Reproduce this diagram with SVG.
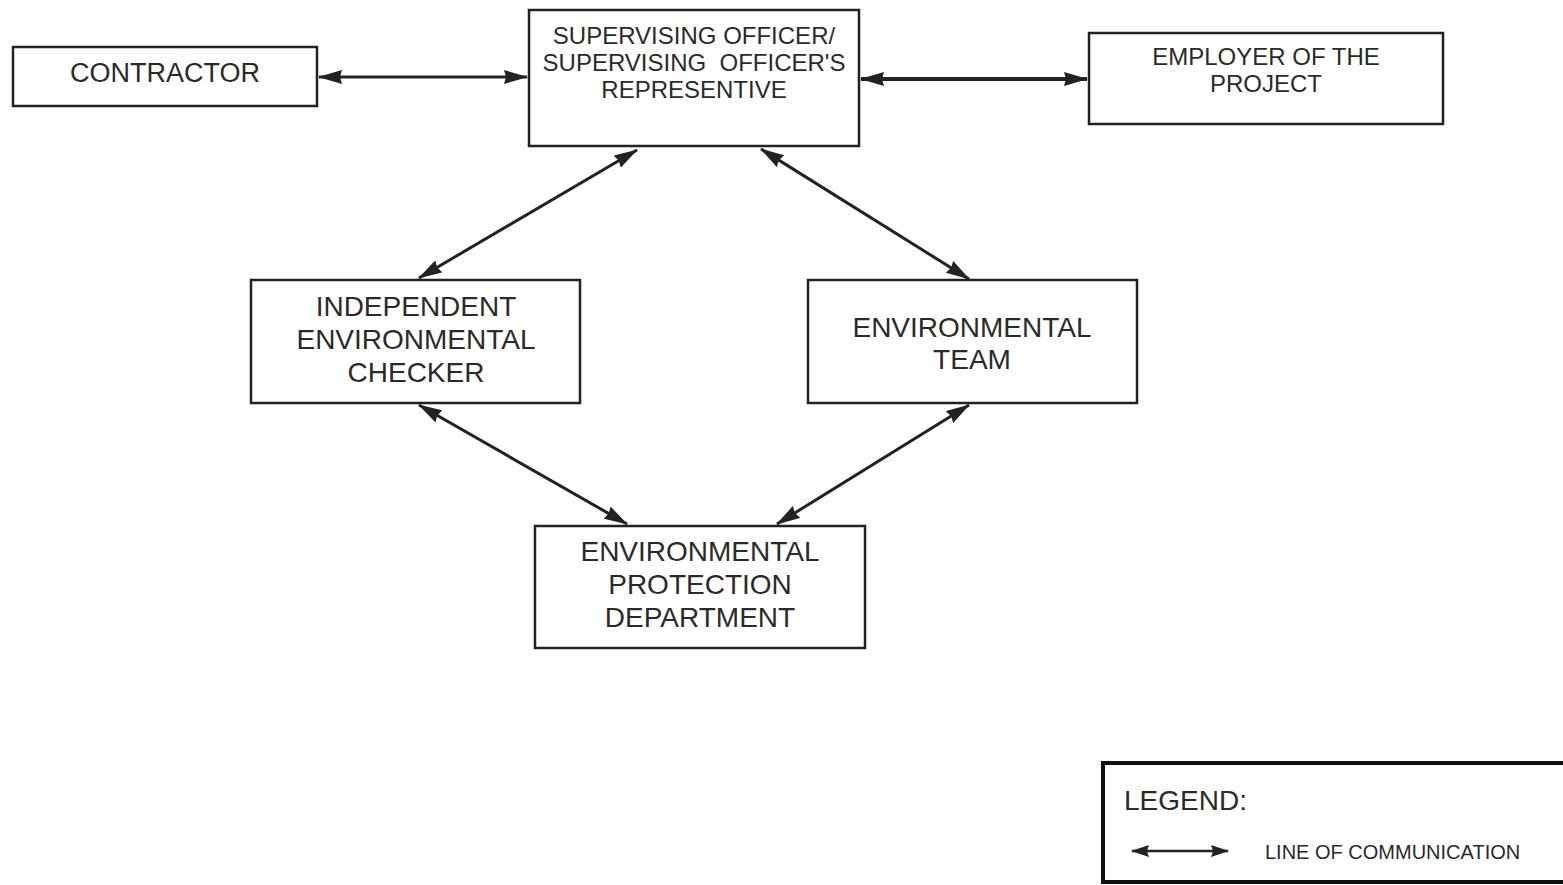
<svg xmlns="http://www.w3.org/2000/svg" width="1563" height="885" viewBox="0 0 1563 885">
<style>
.box{fill:#fff;stroke:#222;stroke-width:2.5}
.t{font-family:"Liberation Sans",Arial,sans-serif;fill:#2a2a2a;text-anchor:middle}
.c{stroke:#222;stroke-width:3;fill:none;marker-start:url(#ah);marker-end:url(#ah)}
</style>
<defs>
<marker id="ah" markerUnits="userSpaceOnUse" markerWidth="24" markerHeight="14" refX="23" refY="7" orient="auto-start-reverse" viewBox="0 0 24 14">
<path d="M0,0 L24,7 L0,14 L2,7 z" fill="#222"/>
</marker>
<marker id="ahs" markerUnits="userSpaceOnUse" markerWidth="18" markerHeight="12" refX="17" refY="6" orient="auto-start-reverse" viewBox="0 0 18 12">
<path d="M0,0 L18,6 L0,12 L2,6 z" fill="#222"/>
</marker>
</defs>
<rect width="1563" height="885" fill="#fff"/>
<g id="connectors">
<line class="c" x1="319" y1="77" x2="527" y2="77"/>
<line class="c" x1="861" y1="79" x2="1087" y2="79" style="stroke-width:4"/>
<line class="c" x1="637" y1="150" x2="419" y2="278"/>
<line class="c" x1="761" y1="149" x2="969" y2="279"/>
<line class="c" x1="419" y1="405" x2="627" y2="524"/>
<line class="c" x1="969" y1="405" x2="777" y2="524"/>
</g>
<g id="contractor">
<rect class="box" x="13" y="47" width="304" height="59"/>
<text class="t" x="165" y="82" font-size="27">CONTRACTOR</text>
</g>
<g id="supervising">
<rect class="box" x="529" y="10" width="330" height="136"/>
<text class="t" x="694" y="44" font-size="24">SUPERVISING OFFICER/</text>
<text class="t" x="694" y="71" font-size="24" xml:space="preserve">SUPERVISING  OFFICER'S</text>
<text class="t" x="694" y="98" font-size="24">REPRESENTIVE</text>
</g>
<g id="employer">
<rect class="box" x="1089" y="33" width="354" height="91"/>
<text class="t" x="1266" y="65" font-size="24">EMPLOYER OF THE</text>
<text class="t" x="1266" y="92" font-size="24">PROJECT</text>
</g>
<g id="iec">
<rect class="box" x="251" y="280" width="329" height="123"/>
<text class="t" x="416" y="316" font-size="28">INDEPENDENT</text>
<text class="t" x="416" y="349" font-size="28">ENVIRONMENTAL</text>
<text class="t" x="416" y="382" font-size="28">CHECKER</text>
</g>
<g id="et">
<rect class="box" x="808" y="280" width="329" height="123"/>
<text class="t" x="972" y="337" font-size="28">ENVIRONMENTAL</text>
<text class="t" x="972" y="369" font-size="28">TEAM</text>
</g>
<g id="epd">
<rect class="box" x="535" y="526" width="330" height="122"/>
<text class="t" x="700" y="561" font-size="28">ENVIRONMENTAL</text>
<text class="t" x="700" y="594" font-size="28">PROTECTION</text>
<text class="t" x="700" y="627" font-size="28">DEPARTMENT</text>
</g>
<g id="legend">
<rect x="1103" y="763" width="470" height="119" fill="#fff" stroke="#111" stroke-width="4"/>
<text class="t" x="1124" y="810" font-size="28" style="text-anchor:start">LEGEND:</text>
<line x1="1132" y1="851" x2="1228" y2="851" stroke="#222" stroke-width="2.5" marker-start="url(#ahs)" marker-end="url(#ahs)"/>
<text class="t" x="1265" y="859" font-size="20" style="text-anchor:start">LINE OF COMMUNICATION</text>
</g>
</svg>
